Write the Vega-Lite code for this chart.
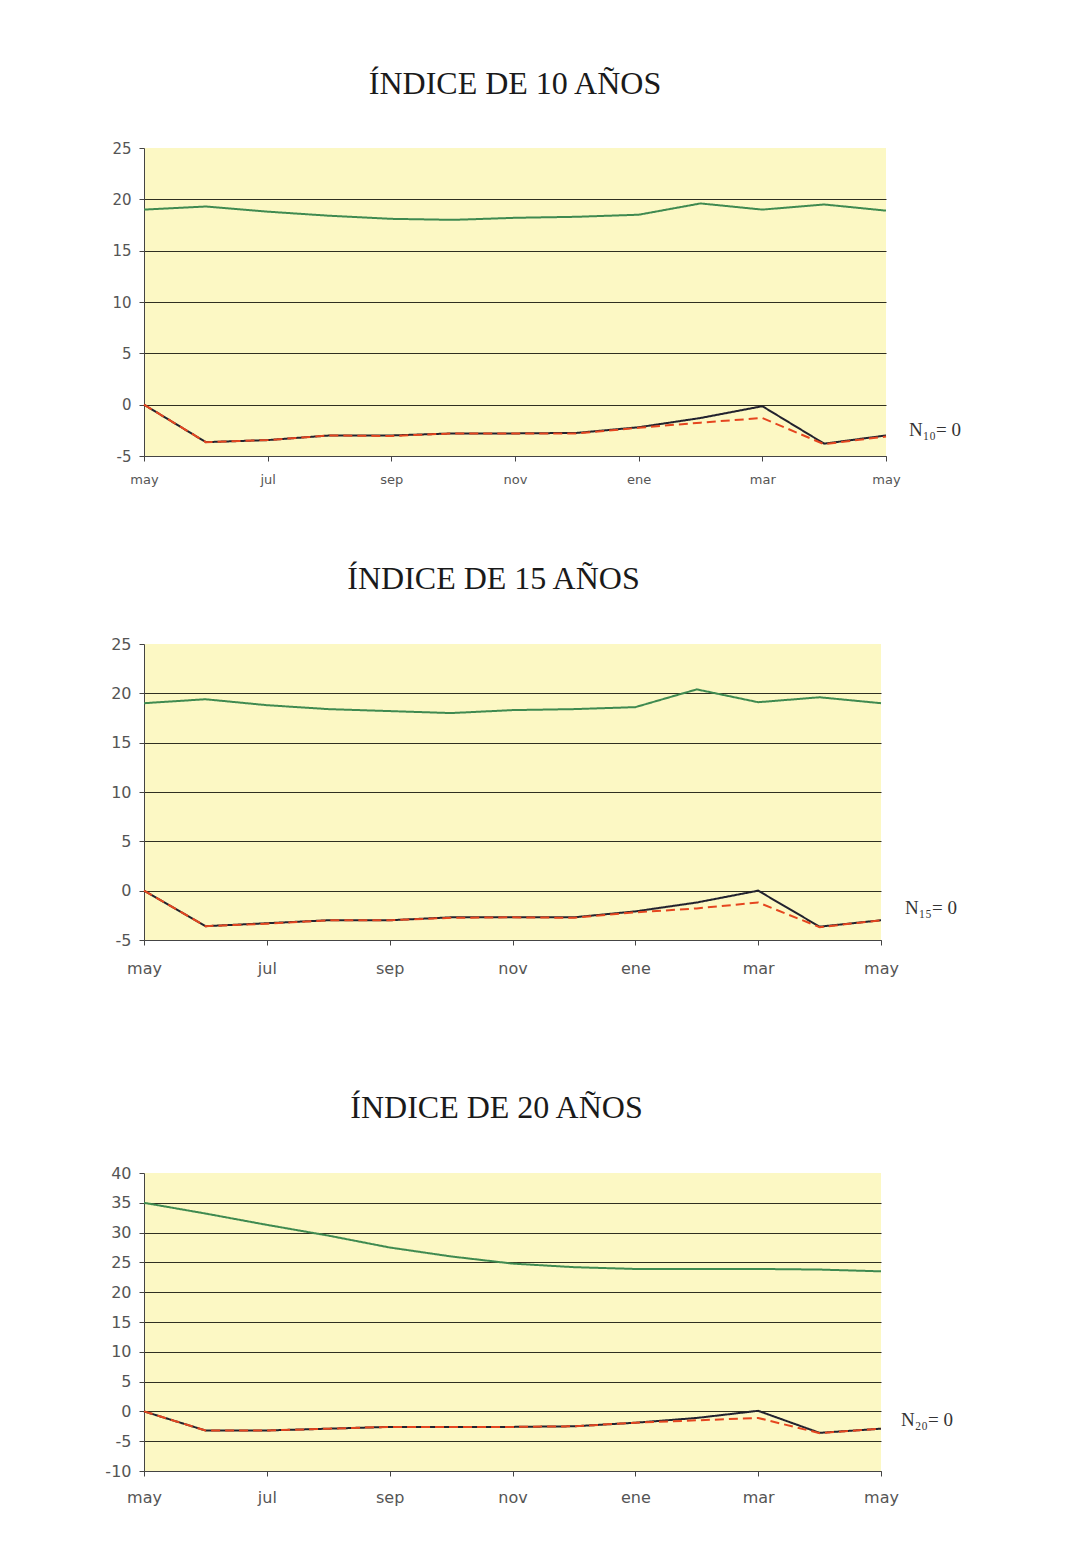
{
  "$schema": "https://vega.github.io/schema/vega-lite/v6.json",
  "background": "white",
  "autosize": {"type": "pad"},
  "padding": {"left": 104, "top": 68, "right": 10, "bottom": 10},
  "config": {
    "view": {"fill": "#fcf8c4", "stroke": null},
    "title": {"font": "Liberation Serif", "fontSize": 32, "fontWeight": "normal", "color": "#1a1a1a", "anchor": "middle", "offset": 40},
    "axis": {"labelFont": "DejaVu Sans", "labelColor": "#555555", "domainColor": "#444444", "tickColor": "#444444", "title": null, "labelOverlap": false, "labelBound": false, "labelFlush": false}
  },
  "datasets": {
    "series": [
      {"panel": 10, "m": 0, "serie": "verde", "v": 19.0}, {"panel": 10, "m": 1, "serie": "verde", "v": 19.3}, {"panel": 10, "m": 2, "serie": "verde", "v": 18.8}, {"panel": 10, "m": 3, "serie": "verde", "v": 18.4}, {"panel": 10, "m": 4, "serie": "verde", "v": 18.1}, {"panel": 10, "m": 5, "serie": "verde", "v": 18.0}, {"panel": 10, "m": 6, "serie": "verde", "v": 18.2}, {"panel": 10, "m": 7, "serie": "verde", "v": 18.3}, {"panel": 10, "m": 8, "serie": "verde", "v": 18.5}, {"panel": 10, "m": 9, "serie": "verde", "v": 19.6}, {"panel": 10, "m": 10, "serie": "verde", "v": 19.0}, {"panel": 10, "m": 11, "serie": "verde", "v": 19.5}, {"panel": 10, "m": 12, "serie": "verde", "v": 18.9},
      {"panel": 10, "m": 0, "serie": "negra", "v": 0}, {"panel": 10, "m": 1, "serie": "negra", "v": -3.65}, {"panel": 10, "m": 2, "serie": "negra", "v": -3.45}, {"panel": 10, "m": 3, "serie": "negra", "v": -3.0}, {"panel": 10, "m": 4, "serie": "negra", "v": -3.0}, {"panel": 10, "m": 5, "serie": "negra", "v": -2.8}, {"panel": 10, "m": 6, "serie": "negra", "v": -2.8}, {"panel": 10, "m": 7, "serie": "negra", "v": -2.75}, {"panel": 10, "m": 8, "serie": "negra", "v": -2.2}, {"panel": 10, "m": 9, "serie": "negra", "v": -1.3}, {"panel": 10, "m": 10, "serie": "negra", "v": -0.15}, {"panel": 10, "m": 11, "serie": "negra", "v": -3.8}, {"panel": 10, "m": 12, "serie": "negra", "v": -3.0},
      {"panel": 10, "m": 0, "serie": "roja", "v": 0}, {"panel": 10, "m": 1, "serie": "roja", "v": -3.65}, {"panel": 10, "m": 2, "serie": "roja", "v": -3.45}, {"panel": 10, "m": 3, "serie": "roja", "v": -3.0}, {"panel": 10, "m": 4, "serie": "roja", "v": -3.05}, {"panel": 10, "m": 5, "serie": "roja", "v": -2.8}, {"panel": 10, "m": 6, "serie": "roja", "v": -2.8}, {"panel": 10, "m": 7, "serie": "roja", "v": -2.8}, {"panel": 10, "m": 8, "serie": "roja", "v": -2.25}, {"panel": 10, "m": 9, "serie": "roja", "v": -1.75}, {"panel": 10, "m": 10, "serie": "roja", "v": -1.3}, {"panel": 10, "m": 11, "serie": "roja", "v": -3.85}, {"panel": 10, "m": 12, "serie": "roja", "v": -3.1},
      {"panel": 15, "m": 0, "serie": "verde", "v": 19.0}, {"panel": 15, "m": 1, "serie": "verde", "v": 19.4}, {"panel": 15, "m": 2, "serie": "verde", "v": 18.8}, {"panel": 15, "m": 3, "serie": "verde", "v": 18.4}, {"panel": 15, "m": 4, "serie": "verde", "v": 18.2}, {"panel": 15, "m": 5, "serie": "verde", "v": 18.0}, {"panel": 15, "m": 6, "serie": "verde", "v": 18.3}, {"panel": 15, "m": 7, "serie": "verde", "v": 18.4}, {"panel": 15, "m": 8, "serie": "verde", "v": 18.6}, {"panel": 15, "m": 9, "serie": "verde", "v": 20.4}, {"panel": 15, "m": 10, "serie": "verde", "v": 19.1}, {"panel": 15, "m": 11, "serie": "verde", "v": 19.6}, {"panel": 15, "m": 12, "serie": "verde", "v": 19.0},
      {"panel": 15, "m": 0, "serie": "negra", "v": 0}, {"panel": 15, "m": 1, "serie": "negra", "v": -3.6}, {"panel": 15, "m": 2, "serie": "negra", "v": -3.3}, {"panel": 15, "m": 3, "serie": "negra", "v": -3.0}, {"panel": 15, "m": 4, "serie": "negra", "v": -3.0}, {"panel": 15, "m": 5, "serie": "negra", "v": -2.7}, {"panel": 15, "m": 6, "serie": "negra", "v": -2.7}, {"panel": 15, "m": 7, "serie": "negra", "v": -2.7}, {"panel": 15, "m": 8, "serie": "negra", "v": -2.1}, {"panel": 15, "m": 9, "serie": "negra", "v": -1.2}, {"panel": 15, "m": 10, "serie": "negra", "v": 0.0}, {"panel": 15, "m": 11, "serie": "negra", "v": -3.65}, {"panel": 15, "m": 12, "serie": "negra", "v": -3.0},
      {"panel": 15, "m": 0, "serie": "roja", "v": 0}, {"panel": 15, "m": 1, "serie": "roja", "v": -3.6}, {"panel": 15, "m": 2, "serie": "roja", "v": -3.35}, {"panel": 15, "m": 3, "serie": "roja", "v": -3.0}, {"panel": 15, "m": 4, "serie": "roja", "v": -3.0}, {"panel": 15, "m": 5, "serie": "roja", "v": -2.75}, {"panel": 15, "m": 6, "serie": "roja", "v": -2.7}, {"panel": 15, "m": 7, "serie": "roja", "v": -2.75}, {"panel": 15, "m": 8, "serie": "roja", "v": -2.2}, {"panel": 15, "m": 9, "serie": "roja", "v": -1.8}, {"panel": 15, "m": 10, "serie": "roja", "v": -1.2}, {"panel": 15, "m": 11, "serie": "roja", "v": -3.7}, {"panel": 15, "m": 12, "serie": "roja", "v": -3.0},
      {"panel": 20, "m": 0, "serie": "verde", "v": 35.0}, {"panel": 20, "m": 1, "serie": "verde", "v": 33.2}, {"panel": 20, "m": 2, "serie": "verde", "v": 31.3}, {"panel": 20, "m": 3, "serie": "verde", "v": 29.5}, {"panel": 20, "m": 4, "serie": "verde", "v": 27.5}, {"panel": 20, "m": 5, "serie": "verde", "v": 26.0}, {"panel": 20, "m": 6, "serie": "verde", "v": 24.8}, {"panel": 20, "m": 7, "serie": "verde", "v": 24.2}, {"panel": 20, "m": 8, "serie": "verde", "v": 23.9}, {"panel": 20, "m": 9, "serie": "verde", "v": 23.9}, {"panel": 20, "m": 10, "serie": "verde", "v": 23.9}, {"panel": 20, "m": 11, "serie": "verde", "v": 23.8}, {"panel": 20, "m": 12, "serie": "verde", "v": 23.5},
      {"panel": 20, "m": 0, "serie": "negra", "v": 0}, {"panel": 20, "m": 1, "serie": "negra", "v": -3.2}, {"panel": 20, "m": 2, "serie": "negra", "v": -3.2}, {"panel": 20, "m": 3, "serie": "negra", "v": -2.9}, {"panel": 20, "m": 4, "serie": "negra", "v": -2.6}, {"panel": 20, "m": 5, "serie": "negra", "v": -2.6}, {"panel": 20, "m": 6, "serie": "negra", "v": -2.6}, {"panel": 20, "m": 7, "serie": "negra", "v": -2.5}, {"panel": 20, "m": 8, "serie": "negra", "v": -1.9}, {"panel": 20, "m": 9, "serie": "negra", "v": -1.1}, {"panel": 20, "m": 10, "serie": "negra", "v": 0.1}, {"panel": 20, "m": 11, "serie": "negra", "v": -3.6}, {"panel": 20, "m": 12, "serie": "negra", "v": -2.9},
      {"panel": 20, "m": 0, "serie": "roja", "v": 0}, {"panel": 20, "m": 1, "serie": "roja", "v": -3.2}, {"panel": 20, "m": 2, "serie": "roja", "v": -3.2}, {"panel": 20, "m": 3, "serie": "roja", "v": -2.9}, {"panel": 20, "m": 4, "serie": "roja", "v": -2.6}, {"panel": 20, "m": 5, "serie": "roja", "v": -2.6}, {"panel": 20, "m": 6, "serie": "roja", "v": -2.6}, {"panel": 20, "m": 7, "serie": "roja", "v": -2.5}, {"panel": 20, "m": 8, "serie": "roja", "v": -1.9}, {"panel": 20, "m": 9, "serie": "roja", "v": -1.5}, {"panel": 20, "m": 10, "serie": "roja", "v": -1.1}, {"panel": 20, "m": 11, "serie": "roja", "v": -3.65}, {"panel": 20, "m": 12, "serie": "roja", "v": -2.9}
    ],
    "notes": [
      {"panel": 10, "m": 12, "v": -2.5, "t": "N₁₀= 0"},
      {"panel": 15, "m": 12, "v": -1.8, "t": "N₁₅= 0"},
      {"panel": 20, "m": 12, "v": -1.5, "t": "N₂₀= 0"}
    ]
  },
  "spacing": 116,
  "vconcat": [
    {
      "spacing": 77,
      "vconcat": [
        {
          "width": 742, "height": 308,
          "title": {"text": "ÍNDICE DE 10 AÑOS"},
          "encoding": {
            "x": {"field": "m", "type": "quantitative", "scale": {"domain": [0, 12], "nice": false, "zero": false},
              "axis": {"values": [0, 2, 4, 6, 8, 10, 12], "labelExpr": "['may','','jul','','sep','','nov','','ene','','mar','','may'][datum.value]", "grid": false, "tickSize": 5, "labelFontSize": 13, "labelPadding": 12}},
            "y": {"field": "v", "type": "quantitative", "scale": {"domain": [-5, 25], "nice": false, "zero": false},
              "axis": {"values": [-5, 0, 5, 10, 15, 20, 25], "labelExpr": "datum.value < 0 ? '-' + abs(datum.value) : '' + datum.value", "grid": true, "gridColor": "#2f2f20", "gridOpacity": {"condition": {"test": "datum.value == 25", "value": 0}, "value": 1}, "tickSize": 5, "labelFontSize": 15, "labelPadding": 8}}
          },
          "layer": [
            {
              "data": {"name": "series"},
              "transform": [{"filter": "datum.panel == 10"}],
              "mark": {"type": "line", "strokeWidth": 2},
              "encoding": {
                "color": {"field": "serie", "type": "nominal", "scale": {"domain": ["negra", "roja", "verde"], "range": ["#22222e", "#e5461f", "#3f8a50"]}, "legend": null},
                "strokeDash": {"field": "serie", "type": "nominal", "scale": {"domain": ["negra", "roja", "verde"], "range": [[1, 0], [9, 5], [1, 0]]}, "legend": null}
              }
            },
            {
              "data": {"name": "notes"},
              "transform": [{"filter": "datum.panel == 10"}],
              "mark": {"type": "text", "align": "left", "baseline": "middle", "dx": 23, "font": "Liberation Serif", "fontSize": 19, "color": "#333333"},
              "encoding": {"text": {"field": "t"}}
            }
          ]
        },
        {
          "width": 737, "height": 296,
          "title": {"text": "ÍNDICE DE 15 AÑOS", "dx": -19},
          "encoding": {
            "x": {"field": "m", "type": "quantitative", "scale": {"domain": [0, 12], "nice": false, "zero": false},
              "axis": {"values": [0, 2, 4, 6, 8, 10, 12], "labelExpr": "['may','','jul','','sep','','nov','','ene','','mar','','may'][datum.value]", "grid": false, "tickSize": 5, "labelFontSize": 16, "labelPadding": 15}},
            "y": {"field": "v", "type": "quantitative", "scale": {"domain": [-5, 25], "nice": false, "zero": false},
              "axis": {"values": [-5, 0, 5, 10, 15, 20, 25], "labelExpr": "datum.value < 0 ? '-' + abs(datum.value) : '' + datum.value", "grid": true, "gridColor": "#2f2f20", "gridOpacity": {"condition": {"test": "datum.value == 25", "value": 0}, "value": 1}, "tickSize": 5, "labelFontSize": 16, "labelPadding": 8}}
          },
          "layer": [
            {
              "data": {"name": "series"},
              "transform": [{"filter": "datum.panel == 15"}],
              "mark": {"type": "line", "strokeWidth": 2},
              "encoding": {
                "color": {"field": "serie", "type": "nominal", "scale": {"domain": ["negra", "roja", "verde"], "range": ["#22222e", "#e5461f", "#3f8a50"]}, "legend": null},
                "strokeDash": {"field": "serie", "type": "nominal", "scale": {"domain": ["negra", "roja", "verde"], "range": [[1, 0], [9, 5], [1, 0]]}, "legend": null}
              }
            },
            {
              "data": {"name": "notes"},
              "transform": [{"filter": "datum.panel == 15"}],
              "mark": {"type": "text", "align": "left", "baseline": "middle", "dx": 24, "font": "Liberation Serif", "fontSize": 19, "color": "#333333"},
              "encoding": {"text": {"field": "t"}}
            }
          ]
        }
      ]
    },
    {
      "width": 737, "height": 298,
      "title": {"text": "ÍNDICE DE 20 AÑOS", "dx": -16},
      "encoding": {
        "x": {"field": "m", "type": "quantitative", "scale": {"domain": [0, 12], "nice": false, "zero": false},
          "axis": {"values": [0, 2, 4, 6, 8, 10, 12], "labelExpr": "['may','','jul','','sep','','nov','','ene','','mar','','may'][datum.value]", "grid": false, "tickSize": 5, "labelFontSize": 16, "labelPadding": 13}},
        "y": {"field": "v", "type": "quantitative", "scale": {"domain": [-10, 40], "nice": false, "zero": false},
          "axis": {"values": [-10, -5, 0, 5, 10, 15, 20, 25, 30, 35, 40], "labelExpr": "datum.value < 0 ? '-' + abs(datum.value) : '' + datum.value", "grid": true, "gridColor": "#2f2f20", "gridOpacity": {"condition": {"test": "datum.value == 40", "value": 0}, "value": 1}, "tickSize": 5, "labelFontSize": 16, "labelPadding": 8}}
      },
      "layer": [
        {
          "data": {"name": "series"},
          "transform": [{"filter": "datum.panel == 20"}],
          "mark": {"type": "line", "strokeWidth": 2},
          "encoding": {
            "color": {"field": "serie", "type": "nominal", "scale": {"domain": ["negra", "roja", "verde"], "range": ["#22222e", "#e5461f", "#3f8a50"]}, "legend": null},
            "strokeDash": {"field": "serie", "type": "nominal", "scale": {"domain": ["negra", "roja", "verde"], "range": [[1, 0], [9, 5], [1, 0]]}, "legend": null}
          }
        },
        {
          "data": {"name": "notes"},
          "transform": [{"filter": "datum.panel == 20"}],
          "mark": {"type": "text", "align": "left", "baseline": "middle", "dx": 20, "font": "Liberation Serif", "fontSize": 19, "color": "#333333"},
          "encoding": {"text": {"field": "t"}}
        }
      ]
    }
  ]
}
